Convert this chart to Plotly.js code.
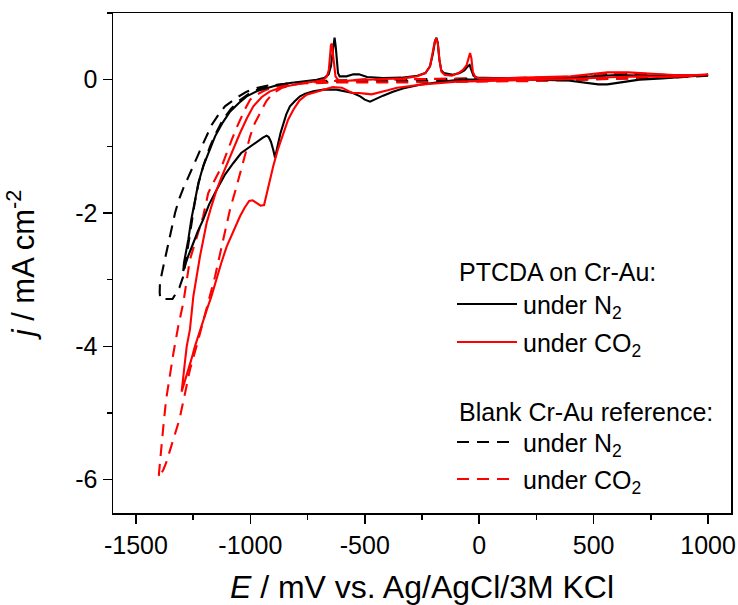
<!DOCTYPE html>
<html><head><meta charset="utf-8">
<script src="https://cdn.plot.ly/plotly-3.0.1.min.js"></script>
<style>body{margin:0;background:#fff}#chart{width:738px;height:605px}</style>
</head><body><div id="chart"></div>
<script>
// PTCDA on Cr-Au, under N2 (cathodic scan from 1000 mV, then anodic return)
const E_ptcda_N2 = [1000,900,800,700,620,560,520,460,380,250,100,-84,-180,-259,-330,-377,-420,-450,-477,-500,-520,-552,-590,-623,-680,-725,-760,-783,-805,-827,-843,-856,-868,-878,-886,-892,-900,-910,-920,-929,-945,-970,-1001,-1040,-1074,-1110,-1147,-1180,-1206,-1230,-1249,-1272,-1293,
 -1290,-1282,-1271,-1258,-1243,-1227,-1206,-1180,-1154,-1120,-1089,-1050,-1016,-970,-929,-880,-827,-760,-710,-675,-658,-648,-641,-636,-632,-627,-622,-617,-610,-580,-550,-525,-490,-420,-340,-270,-235,-215,-203,-193,-187,-181,-174,-166,-155,-115,-85,-65,-50,-42,-35,-25,-10,100,250,400,500,600,700,850,1000];
const j_ptcda_N2 = [0.07,0.04,0.02,0.0,-0.04,-0.07,-0.07,-0.04,-0.01,0.0,0.0,0.0,-0.04,-0.075,-0.13,-0.18,-0.24,-0.29,-0.33,-0.30,-0.25,-0.2,-0.17,-0.15,-0.15,-0.175,-0.21,-0.25,-0.32,-0.40,-0.52,-0.65,-0.8,-0.95,-1.08,-1.17,-1.05,-0.93,-0.86,-0.84,-0.87,-0.93,-1.0,-1.1,-1.25,-1.42,-1.65,-1.87,-2.1,-2.28,-2.45,-2.65,-2.87,
 -2.75,-2.6,-2.4,-2.1,-1.82,-1.55,-1.3,-1.06,-0.85,-0.64,-0.48,-0.35,-0.25,-0.17,-0.125,-0.08,-0.05,-0.02,0.0,0.03,0.08,0.2,0.42,0.6,0.63,0.5,0.25,0.1,0.05,0.05,0.08,0.08,0.04,0.025,0.03,0.06,0.1,0.2,0.38,0.58,0.63,0.55,0.3,0.14,0.1,0.075,0.1,0.14,0.2,0.22,0.15,0.06,0.03,0.02,0.02,0.03,0.05,0.07,0.06,0.06,0.07];

// PTCDA on Cr-Au, under CO2
const E_ptcda_CO2 = [1000,900,800,700,600,500,400,250,100,-100,-259,-320,-359,-400,-440,-470,-500,-525,-555,-575,-600,-640,-681,-720,-754,-785,-812,-835,-856,-880,-900,-915,-928,-940,-955,-972,-990,-1005,-1025,-1045,-1075,-1103,-1127,-1147,-1170,-1190,-1210,-1220,-1242,-1258,-1271,-1286,-1300,
 -1296,-1293,-1286,-1278,-1264,-1249,-1220,-1191,-1170,-1150,-1128,-1103,-1075,-1045,-1015,-987,-950,-914,-860,-812,-760,-710,-680,-665,-657,-652,-648,-644,-640,-635,-628,-615,-590,-550,-500,-420,-330,-270,-235,-215,-205,-195,-188,-181,-174,-165,-150,-120,-90,-70,-55,-47,-40,-34,-28,-18,0,100,250,400,500,560,650,750,850,950,1000];
const j_ptcda_CO2 = [0.08,0.05,0.04,0.05,0.04,0.02,0.01,0.0,-0.01,-0.03,-0.075,-0.1,-0.12,-0.16,-0.2,-0.22,-0.21,-0.2,-0.2,-0.16,-0.12,-0.11,-0.15,-0.19,-0.225,-0.31,-0.45,-0.6,-0.8,-1.05,-1.3,-1.52,-1.75,-1.88,-1.89,-1.85,-1.81,-1.82,-1.92,-2.05,-2.27,-2.5,-2.75,-3.0,-3.25,-3.45,-3.65,-3.75,-4.0,-4.2,-4.35,-4.52,-4.68,
 -4.55,-4.45,-4.22,-4.0,-3.75,-3.25,-2.65,-2.15,-1.9,-1.68,-1.48,-1.28,-1.03,-0.80,-0.58,-0.40,-0.26,-0.175,-0.11,-0.075,-0.045,-0.025,0.0,0.05,0.15,0.35,0.52,0.54,0.4,0.2,0.05,-0.01,-0.02,-0.01,0.0,0.01,0.02,0.05,0.1,0.2,0.38,0.56,0.62,0.55,0.3,0.12,0.07,0.06,0.1,0.15,0.22,0.32,0.4,0.32,0.12,0.04,0.02,0.02,0.03,0.05,0.09,0.11,0.11,0.09,0.07,0.07,0.08];

// Blank Cr-Au reference, under N2
const E_blank_N2 = [1000,900,750,600,450,250,0,-300,-600,-800,-929,-980,-1016,-1060,-1111,-1140,-1169,-1192,-1212,-1231,-1249,-1272,-1293,-1312,-1329,-1351,-1363,-1373,-1385,-1395,-1396,-1393,
 -1340,-1310,-1293,-1282,-1270,-1257,-1243,-1226,-1203,-1176,-1150,-1120,-1085,-1050,-1010,-970,-930,-880,-820,-700,-500,-200,0,300,450,550,650,750,900,1000];
const j_blank_N2 = [0.06,0.04,0.03,0.01,0.0,-0.01,-0.01,-0.02,-0.03,-0.05,-0.09,-0.13,-0.18,-0.27,-0.40,-0.53,-0.68,-0.84,-1.0,-1.15,-1.30,-1.47,-1.63,-1.8,-2.0,-2.33,-2.52,-2.70,-2.88,-3.05,-3.2,-3.29,
 -3.29,-3.12,-2.95,-2.72,-2.45,-2.15,-1.85,-1.55,-1.27,-1.0,-0.8,-0.6,-0.44,-0.32,-0.22,-0.15,-0.11,-0.08,-0.05,-0.02,0.0,0.01,0.02,0.03,0.05,0.08,0.09,0.07,0.06,0.06];

// Blank Cr-Au reference, under CO2
const E_blank_CO2 = [1000,900,750,600,450,250,0,-300,-600,-800,-850,-930,-970,-1001,-1020,-1038,-1060,-1081,-1103,-1125,-1155,-1184,-1206,-1235,-1264,-1293,-1315,-1336,-1351,-1368,-1380,-1390,-1399,-1400,
 -1380,-1368,-1336,-1310,-1285,-1264,-1235,-1212,-1190,-1172,-1154,-1125,-1089,-1060,-1030,-1001,-980,-958,-930,-900,-860,-800,-700,-500,-200,0,300,450,550,650,750,900,1000];
const j_blank_CO2 = [0.07,0.04,0.03,0.02,0.0,-0.02,-0.03,-0.04,-0.04,-0.06,-0.08,-0.15,-0.22,-0.30,-0.42,-0.55,-0.72,-0.90,-1.1,-1.30,-1.5,-1.70,-2.05,-2.38,-2.7,-3.35,-3.7,-4.1,-4.45,-4.8,-5.2,-5.53,-5.9,-5.97,
 -5.85,-5.75,-5.4,-5.1,-4.7,-4.35,-4.0,-3.7,-3.4,-3.2,-2.95,-2.5,-1.95,-1.6,-1.2,-0.85,-0.65,-0.5,-0.32,-0.2,-0.12,-0.07,-0.03,0.0,0.01,0.02,0.03,0.05,0.09,0.1,0.08,0.06,0.07];

const xTickVals = [-1500,-1000,-500,0,500,1000];
const xTickText = ["-1500","-1000","-500","0","500","1000"];
const yTickVals = [-6,-4,-2,0];
const yTickText = ["-6","-4","-2","0"];

const groupTitles = ["PTCDA on Cr-Au:", "Blank Cr-Au reference:"];
const seriesNames = ["under N<sub>2</sub>", "under CO<sub>2</sub>", "under N<sub>2</sub>", "under CO<sub>2</sub>"];

const FONT = "Liberation Sans, Arial, sans-serif";
const styles = [
  {color:"#000000", dash:"solid"},
  {color:"#ff0000", dash:"solid"},
  {color:"#000000", dash:"12px,8px"},
  {color:"#ff0000", dash:"12px,8px"}
];
const series = [
  [E_blank_N2, j_blank_N2, 2],
  [E_blank_CO2, j_blank_CO2, 3],
  [E_ptcda_N2, j_ptcda_N2, 0],
  [E_ptcda_CO2, j_ptcda_CO2, 1]
];
const traces = series.map(s => ({
  x: s[0], y: s[1], type: "scatter", mode: "lines",
  name: seriesNames[s[2]], showlegend: false,
  line: {color: styles[s[2]].color, dash: styles[s[2]].dash, width: 2.1, shape: "linear"}
}));

// plot-area geometry (px) for hand-placed legend
const L = 113, R = 731, T = 13, B = 513;
const px2x = p => (p - L) / (R - L);
const py2y = p => (B - p) / (B - T);

const legendRows = [
  {type: "title", text: groupTitles[0], y: 272},
  {type: "item", s: 0, y: 304},
  {type: "item", s: 1, y: 342},
  {type: "title", text: groupTitles[1], y: 412},
  {type: "item", s: 2, y: 442},
  {type: "item", s: 3, y: 479}
];
const annotations = [];
const shapes = [];
legendRows.forEach(r => {
  if (r.type === "title") {
    annotations.push({xref:"paper", yref:"paper", x: px2x(457), y: py2y(r.y), xanchor:"left", yanchor:"middle",
      text: r.text, showarrow:false, font:{family:FONT, size:25, color:"#000"}});
  } else {
    shapes.push({type:"line", xref:"paper", yref:"paper", x0: px2x(457), x1: px2x(517), y0: py2y(r.y), y1: py2y(r.y),
      line:{color: styles[r.s].color, width:2, dash: styles[r.s].dash}});
    annotations.push({xref:"paper", yref:"paper", x: px2x(521), y: py2y(r.y + 3), xanchor:"left", yanchor:"middle",
      text: seriesNames[r.s], showarrow:false, font:{family:FONT, size:25, color:"#000"}});
  }
});

const axisCommon = {
  showgrid:false, zeroline:false, showline:true, linecolor:"#000", linewidth:1.5, mirror:true,
  ticks:"outside", ticklen:9, tickwidth:1.5, tickcolor:"#000",
  tickfont:{family:FONT, size:25, color:"#000"}, tickmode:"array"
};
const layout = {
  width:738, height:605,
  margin:{l:L, r:738-R, t:T, b:605-B},
  paper_bgcolor:"#fff", plot_bgcolor:"#fff",
  showlegend:false,
  xaxis: Object.assign({}, axisCommon, {
    range:[-1600,1100], tickvals:xTickVals, ticktext:xTickText,
    minor:{tickmode:"linear", tick0:0, dtick:250, ticks:"outside", ticklen:5, tickwidth:1.5, tickcolor:"#000"},
    title:{text:"<i>E</i> / mV vs. Ag/AgCl/3M KCl", font:{family:FONT, size:32, color:"#000"}, standoff:19}
  }),
  yaxis: Object.assign({}, axisCommon, {
    range:[-6.5,1], tickvals:yTickVals, ticktext:yTickText,
    minor:{tickmode:"linear", tick0:0, dtick:1, ticks:"outside", ticklen:5, tickwidth:1.5, tickcolor:"#000"},
    title:{text:"<i>j</i> / mA cm<sup>-2</sup>", font:{family:FONT, size:31, color:"#000"}, standoff:31}
  }),
  annotations: annotations,
  shapes: shapes
};
Plotly.newPlot("chart", traces, layout, {staticPlot:true, displayModeBar:false});
</script></body></html>
